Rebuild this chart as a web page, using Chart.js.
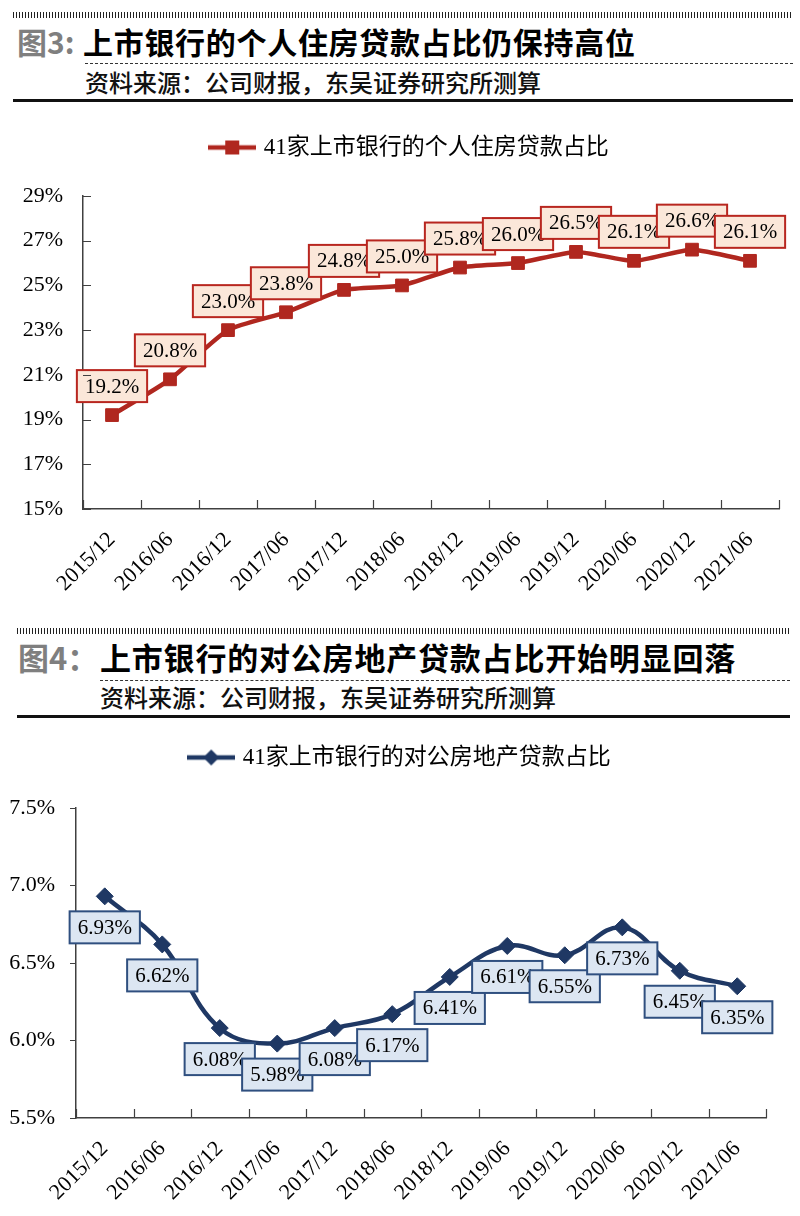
<!DOCTYPE html>
<html>
<head>
<meta charset="utf-8">
<script src="https://cdn.jsdelivr.net/npm/chart.js@4.4.1/dist/chart.umd.min.js"></script>
<style>
    body { margin: 0; background: #fff; }
    #page { position: relative; width: 800px; height: 1216px; overflow: hidden; font-family: "Noto Sans CJK SC", sans-serif; }
    .hatch { position: absolute; height: 6px; background: repeating-linear-gradient(90deg, #222 0 1px, #fff 1px 3px); }
    .fig-no { position: absolute; color: #7f7f7f; font-weight: 700; line-height: 1; }
    .fig-title { position: absolute; color: #000; font-weight: 700; line-height: 1; white-space: nowrap; }
    .dash { position: absolute; border-top: 1px dashed #333; height: 0; }
    .source { position: absolute; color: #111; font-size: 24px; font-weight: 500; line-height: 1; white-space: nowrap; }
    .rule { position: absolute; height: 2.5px; background: #111; }
    canvas { position: absolute; left: 0; }
</style>
</head>
<body>
<div id="page">
    <div class="hatch" style="left:13px; width:780px; top:12px;"></div>
    <div class="fig-no" style="left:17px; top:26px; font-size:30px;">图3:</div>
    <div class="fig-title" style="left:83px; top:26px; font-size:30px; letter-spacing:0.7px;">上市银行的个人住房贷款占比仍保持高位</div>
    <div class="dash" style="left:85px; width:708px; top:63px;"></div>
    <div class="source" style="left:85px; top:70px;">资料来源：公司财报，东吴证券研究所测算</div>
    <div class="rule" style="left:13px; width:780px; top:99px;"></div>
    <canvas id="chart1" width="800" height="500" style="top:110px;"></canvas>

    <div class="hatch" style="left:17px; width:773px; top:628px;"></div>
    <div class="fig-no" style="left:18px; top:641px; font-size:31px;">图4：</div>
    <div class="fig-title" style="left:100px; top:641px; font-size:31px; letter-spacing:0.8px;">上市银行的对公房地产贷款占比开始明显回落</div>
    <div class="dash" style="left:100px; width:690px; top:680px;"></div>
    <div class="source" style="left:100px; top:685px;">资料来源：公司财报，东吴证券研究所测算</div>
    <div class="rule" style="left:17px; width:773px; top:715px;"></div>
    <canvas id="chart2" width="800" height="498" style="top:718px;"></canvas>
</div>
<script>
const periods = ["2015/12", "2016/06", "2016/12", "2017/06", "2017/12", "2018/06",
                 "2018/12", "2019/06", "2019/12", "2020/06", "2020/12", "2021/06"];

const mortgageName = "41家上市银行的个人住房贷款占比";
const mortgageShare = [19.2, 20.8, 23.0, 23.8, 24.8, 25.0, 25.8, 26.0, 26.5, 26.1, 26.6, 26.1];
const mortgageTicks = [15, 17, 19, 21, 23, 25, 27, 29];

const developerName = "41家上市银行的对公房地产贷款占比";
const developerShare = [6.93, 6.62, 6.08, 5.98, 6.08, 6.17, 6.41, 6.61, 6.55, 6.73, 6.45, 6.35];
const developerTicks = [5.5, 6.0, 6.5, 7.0, 7.5];

const RED = "#B0271F";
const NAVY = "#1F3864";
const numFont = "'Liberation Serif', 'Times New Roman', serif";
const legendFont = "'Liberation Serif', 'Noto Sans CJK SC', serif";

// little line + marker picture used as the legend symbol
function legendIcon(color, shape) {
    const c = document.createElement("canvas");
    c.width = 48;
    c.height = 18;
    const g = c.getContext("2d");
    g.strokeStyle = color;
    g.lineWidth = 4.5;
    g.beginPath();
    g.moveTo(0, 9);
    g.lineTo(48, 9);
    g.stroke();
    g.fillStyle = color;
    if (shape === "rect") {
        g.fillRect(17, 2, 14, 14);
    } else {
        g.beginPath();
        g.moveTo(24, 1);
        g.lineTo(32, 9);
        g.lineTo(24, 17);
        g.lineTo(16, 9);
        g.closePath();
        g.fill();
    }
    return c;
}

// extra room between the legend and the plot, and a small sideways nudge
const legendGap = {
    id: "legendGap",
    afterInit(chart, args, opts) {
        const lg = chart.legend;
        const fit = lg.fit;
        lg.fit = function () {
            fit.call(this);
            this.height += opts.gap;
        };
    },
    afterLayout(chart, args, opts) {
        chart.legend.left += opts.shift;
        chart.legend.right += opts.shift;
    }
};

// boxed value labels next to each point
const valueBoxes = {
    id: "valueBoxes",
    afterDatasetsDraw(chart, args, opts) {
        const ctx = chart.ctx;
        const meta = chart.getDatasetMeta(0);
        const values = chart.data.datasets[0].data;
        ctx.save();
        ctx.font = "21px " + numFont;
        ctx.textAlign = "center";
        ctx.textBaseline = "middle";
        meta.data.forEach((pt, i) => {
            const text = values[i].toFixed(opts.digits) + "%";
            const w = ctx.measureText(text).width + 16;
            const h = 32;
            const cx = pt.x;
            const cy = pt.y + opts.offset;
            ctx.fillStyle = opts.fill;
            ctx.fillRect(cx - w / 2, cy - h / 2, w, h);
            ctx.strokeStyle = opts.border;
            ctx.lineWidth = 2;
            ctx.strokeRect(cx - w / 2, cy - h / 2, w, h);
            ctx.fillStyle = "#000";
            ctx.fillText(text, cx, cy + 1);
        });
        ctx.restore();
    }
};

// short tick marks pointing into the plot area
const innerTicks = {
    id: "innerTicks",
    afterDraw(chart, args, opts) {
        const {ctx, chartArea: a, scales: {x, y}} = chart;
        ctx.save();
        ctx.strokeStyle = "#404040";
        ctx.lineWidth = 1.2;
        ctx.beginPath();
        for (let i = 0; i <= x.ticks.length; i++) {
            const px = Math.round(x.getPixelForValue(i - 0.5)) + 0.5;
            ctx.moveTo(px, a.bottom);
            ctx.lineTo(px, a.bottom - 9);
        }
        if (opts.yInside) {
            y.ticks.forEach(t => {
                const py = Math.round(y.getPixelForValue(t.value)) + 0.5;
                ctx.moveTo(a.left, py);
                ctx.lineTo(a.left + 8, py);
            });
        }
        ctx.stroke();
        ctx.restore();
    }
};

function makeChart(id, cfg) {
    return new Chart(document.getElementById(id), {
        type: "line",
        data: {
            labels: periods,
            datasets: [{
                label: cfg.name,
                data: cfg.values,
                borderColor: cfg.color,
                backgroundColor: cfg.color,
                borderWidth: 4.5,
                tension: cfg.tension,
                pointStyle: cfg.shape,
                pointRadius: cfg.radius,
                pointBorderWidth: 1,
                pointBackgroundColor: cfg.color,
                pointBorderColor: cfg.color
            }]
        },
        options: {
            responsive: false,
            animation: false,
            devicePixelRatio: 1,
            layout: { padding: { left: 0, right: cfg.padRight, top: 0, bottom: 0 } },
            plugins: {
                tooltip: { enabled: false },
                legend: {
                    position: "top",
                    labels: {
                        usePointStyle: true,
                        pointStyleWidth: 40,
                        padding: cfg.legendPad,
                        color: "#000",
                        font: { size: 23, family: legendFont },
                        generateLabels: () => [{
                            text: cfg.name,
                            pointStyle: legendIcon(cfg.color, cfg.shape === "rect" ? "rect" : "diamond"),
                            fillStyle: cfg.color,
                            strokeStyle: cfg.color,
                            lineWidth: 0,
                            hidden: false,
                            datasetIndex: 0
                        }]
                    }
                },
                legendGap: { gap: cfg.legendGap, shift: cfg.legendShift },
                valueBoxes: cfg.boxes,
                innerTicks: { yInside: cfg.yInside }
            },
            scales: {
                x: {
                    offset: true,
                    afterFit: s => { s.height = cfg.xHeight; },
                    grid: { display: false },
                    border: { display: true, color: "#404040", width: 1.5 },
                    ticks: {
                        autoSkip: false,
                        maxRotation: 45,
                        minRotation: 45,
                        padding: 10,
                        color: "#000",
                        font: { size: 22, family: numFont }
                    }
                },
                y: {
                    min: cfg.ticks[0],
                    max: cfg.ticks[cfg.ticks.length - 1],
                    afterFit: s => { s.width = cfg.axisLeft; },
                    afterBuildTicks: s => { s.ticks = cfg.ticks.map(v => ({ value: v })); },
                    grid: {
                        drawOnChartArea: false,
                        drawTicks: !cfg.yInside,
                        tickLength: 6,
                        color: "#404040"
                    },
                    border: { display: true, color: "#404040", width: 1.5 },
                    ticks: {
                        padding: cfg.yInside ? 20 : 15,
                        color: "#000",
                        font: { size: 22, family: numFont },
                        callback: v => v.toFixed(cfg.tickDigits) + "%"
                    }
                }
            }
        },
        plugins: [legendGap, valueBoxes, innerTicks]
    });
}

makeChart("chart1", {
    name: mortgageName,
    values: mortgageShare,
    ticks: mortgageTicks,
    tickDigits: 0,
    color: RED,
    shape: "rect",
    radius: 9,
    tension: 0.2,
    yInside: true,
    axisLeft: 83,
    xHeight: 101,
    padRight: 21,
    legendPad: 26,
    legendGap: 27,
    legendShift: 21,
    boxes: { offset: -29, digits: 1, fill: "#FBE7D9", border: "#B8261F" }
});

makeChart("chart2", {
    name: developerName,
    values: developerShare,
    ticks: developerTicks,
    tickDigits: 1,
    color: NAVY,
    shape: "rectRot",
    radius: 8.5,
    tension: 0.4,
    yInside: false,
    axisLeft: 76,
    xHeight: 98,
    padRight: 34,
    legendPad: 28,
    legendGap: 29,
    legendShift: 18,
    boxes: { offset: 31, digits: 2, fill: "#DCE6F2", border: "#2F4F7F" }
});
</script>
</body>
</html>
